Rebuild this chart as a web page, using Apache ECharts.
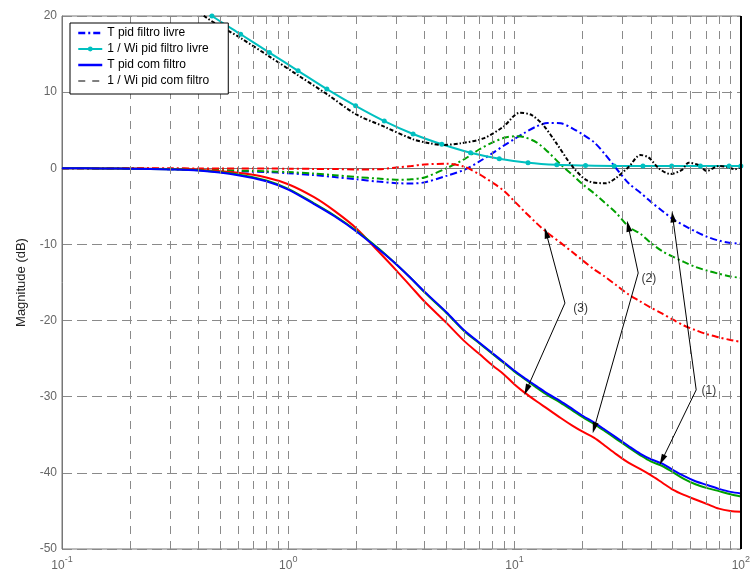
<!DOCTYPE html>
<html>
<head>
<meta charset="utf-8">
<script src="https://cdn.jsdelivr.net/npm/echarts@6/dist/echarts.min.js"></script>
<style>html,body{margin:0;padding:0;background:#fff;}#chart{width:753px;height:572px;}</style>
</head>
<body>
<div id="chart"></div>
<script>
// ---- data (frequency in rad/s, magnitude in dB) ----
const freq = [0.1,0.15,0.2,0.3,0.4,0.6,0.8,1.0,1.3,1.6,2.0,2.5,3.0,3.5,4,5,6,7,8,9,10,11,12.5,14,16,18,20,22.5,25,28,32,36,40,45,50,56,63,71,80,90,100];

// T, pid filtro livre (dash-dot) - cases (1) blue, (2) green, (3) red
const tLivre1 = [0,-0.02,-0.05,-0.12,-0.2,-0.4,-0.5,-0.65,-0.9,-1.15,-1.45,-1.75,-1.95,-2.0,-1.85,-1.0,-0.2,0.9,2.0,3.0,3.85,4.6,5.5,5.95,5.9,5.25,4.45,3.4,1.9,0.07,-2.0,-3.2,-4.4,-5.6,-6.65,-7.5,-8.3,-9.0,-9.5,-9.8,-9.9];
const tLivre2 = [0,-0.02,-0.04,-0.1,-0.17,-0.3,-0.4,-0.5,-0.7,-0.9,-1.15,-1.35,-1.5,-1.45,-1.2,0.0,1.2,2.5,3.4,4.0,4.2,4.1,3.4,2.2,0.5,-0.85,-2.1,-3.3,-4.5,-5.8,-7.7,-8.6,-9.8,-10.9,-11.6,-12.3,-12.95,-13.45,-13.85,-14.2,-14.4];
const tLivre3 = [0,0,0,0,-0.02,-0.03,-0.04,-0.05,-0.08,-0.1,-0.15,-0.13,0.1,0.3,0.5,0.6,0.2,-0.8,-1.9,-3.0,-4.35,-5.6,-7.2,-8.5,-9.8,-11.0,-12.1,-13.3,-14.2,-15.3,-16.6,-17.5,-18.3,-19.1,-19.85,-20.65,-21.25,-21.8,-22.2,-22.55,-22.8];

// T, pid com filtro (solid)
const tCom1 = [0,-0.02,-0.05,-0.15,-0.3,-0.9,-1.7,-2.8,-4.7,-6.3,-8.3,-10.6,-12.6,-14.5,-16.2,-18.9,-21.3,-22.9,-24.3,-25.5,-26.6,-27.5,-28.6,-29.6,-30.6,-31.6,-32.5,-33.4,-34.3,-35.3,-36.5,-37.5,-38.2,-38.8,-39.6,-40.4,-41.1,-41.6,-42.1,-42.5,-42.7];
const tCom2 = [0,-0.02,-0.05,-0.13,-0.27,-0.8,-1.6,-2.7,-4.6,-6.2,-8.2,-10.5,-12.6,-14.5,-16.3,-19.0,-21.4,-23.0,-24.4,-25.6,-26.7,-27.6,-28.8,-29.8,-30.8,-31.8,-32.7,-33.6,-34.5,-35.5,-36.7,-37.7,-38.5,-39.1,-39.9,-40.8,-41.5,-42.0,-42.4,-42.8,-43.1];
const tCom3 = [0,-0.02,-0.04,-0.1,-0.2,-0.6,-1.2,-2.1,-3.8,-5.6,-7.9,-10.9,-13.4,-15.6,-17.5,-20.3,-22.7,-24.4,-25.9,-27.1,-28.4,-29.4,-30.6,-31.6,-32.8,-33.8,-34.6,-35.4,-36.4,-37.5,-38.7,-39.5,-40.3,-41.3,-42.2,-42.9,-43.5,-44.1,-44.7,-45.0,-45.1];

// 1/Wi, pid filtro livre (cyan, markers)
const wiLivreFreq = [0.343,0.460,0.616,0.825,1.105,1.481,1.984,2.657,3.561,4.771,6.391,8.562,11.47,15.37,20.59,27.57,36.94,49.49,66.3,88.8,100];
const wiLivre = [22.6,20.0,17.6,15.2,12.8,10.4,8.2,6.2,4.5,3.15,2.05,1.26,0.73,0.45,0.35,0.3,0.3,0.3,0.3,0.3,0.3];

// 1/Wi, pid com filtro (black)
const wiComFreq = [0.32,0.425,0.616,0.823,1.106,1.478,1.99,2.64,3.57,4.2,4.79,5.75,7.29,8.92,10.55,11.87,13.36,15.3,18.07,21.0,25.3,28.0,32.0,36.0,39.2,43.4,48.8,55,58.8,65,70.7,80,88,94,100];
const wiCom = [23.5,20.0,17.1,14.7,12.2,9.76,7.1,5.5,3.8,3.3,3.06,3.27,3.93,5.46,7.3,7.0,5.7,3.3,0.2,-1.63,-1.97,-1.3,0.2,1.74,1.4,0.0,-0.75,-0.2,0.73,0.43,-0.35,0.3,0.13,-0.13,0.13];

// axes
const yMin = -50, yMax = 20, yStep = 10;
const xMin = 0.1, xMax = 100;
const gridFreqs = [0.2,0.3,0.4,0.5,0.6,0.7,0.8,0.9,1,2,3,4,5,6,7,8,9,10,20,30,40,50,60,70,80,90];

// annotations
const annLabels = ['(3)','(2)','(1)'];
const annLabelPos = [[19.6,-18.4],[39.2,-14.45],[72.2,-29.2]];
const annArrows = [
  [[16.7,-17.7],[13.8,-8.5]],
  [[16.7,-17.7],[11.3,-29.1]],
  [[35.2,-13.75],[31.8,-7.6]],
  [[35.2,-13.75],[22.5,-34.1]],
  [[63.5,-29.1],[50.0,-6.4]],
  [[63.5,-29.1],[44.9,-38.3]]
];

const FONT = 'Liberation Sans, Arial, sans-serif';
const zip = (xs, ys) => xs.map((x, i) => [x, ys[i]]);
const DASHDOT = [7, 3, 2, 3];
const NOSYM = {opacity: 0};

const chart = echarts.init(document.getElementById('chart'), null, {renderer: 'canvas'});

const series = [
  {
    name: 'grid-v', type: 'line', data: [], z: 0, silent: true,
    markLine: {
      silent: true, symbol: ['none', 'none'], animation: false,
      label: {show: false},
      lineStyle: {color: '#8a8a8a', width: 1, type: [8, 7]},
      data: gridFreqs.map(f => ({xAxis: f}))
    }
  },
  {
    name: 'frame-right', type: 'line', data: [], z: 6, silent: true,
    markLine: {
      silent: true, symbol: ['none', 'none'], animation: false,
      label: {show: false},
      lineStyle: {color: '#000', width: 2, type: 'solid'},
      data: [{xAxis: xMax}]
    }
  },
  {name: 'T pid filtro livre', type: 'line', data: zip(freq, tLivre1), symbol: 'none', smooth: 0.3, z: 3,
   lineStyle: {color: '#0000ff', width: 2, type: DASHDOT}, itemStyle: {color: '#0000ff'}},
  {name: 'T livre (2)', type: 'line', data: zip(freq, tLivre2), symbol: 'none', smooth: 0.3, z: 3,
   lineStyle: {color: '#00a000', width: 2, type: DASHDOT}, itemStyle: {color: '#00a000'}},
  {name: 'T livre (3)', type: 'line', data: zip(freq, tLivre3), symbol: 'none', smooth: 0.3, z: 3,
   lineStyle: {color: '#ff0000', width: 2, type: DASHDOT}, itemStyle: {color: '#ff0000'}},
  {name: '1 / Wi pid filtro livre', type: 'line', data: zip(wiLivreFreq, wiLivre), symbol: 'circle', symbolSize: 5, smooth: 0.3, z: 3,
   showAllSymbol: true,
   lineStyle: {color: '#00c0c0', width: 2}, itemStyle: {color: '#00c0c0'}},
  {name: '1 / Wi pid com filtro', type: 'line', data: zip(wiComFreq, wiCom), symbol: 'none', smooth: 0.3, z: 3,
   lineStyle: {color: '#000', width: 2, type: [4, 2, 1.5, 2]}, itemStyle: {color: '#000'}},
  {name: 'T com (3)', type: 'line', data: zip(freq, tCom3), symbol: 'none', smooth: 0.3, z: 3,
   lineStyle: {color: '#ff0000', width: 2}, itemStyle: {color: '#ff0000'}},
  {name: 'T com (2)', type: 'line', data: zip(freq, tCom2), symbol: 'none', smooth: 0.3, z: 3,
   lineStyle: {color: '#00a000', width: 2}, itemStyle: {color: '#00a000'}},
  {name: 'T pid com filtro', type: 'line', data: zip(freq, tCom1), symbol: 'none', smooth: 0.3, z: 3,
   lineStyle: {color: '#0000ff', width: 2}, itemStyle: {color: '#0000ff'}},
  {
    name: 'annotations', type: 'scatter', z: 5, silent: true,
    data: annLabelPos.map((p, i) => ({value: p, name: annLabels[i]})),
    symbolSize: 0,
    label: {show: true, position: 'inside', formatter: p => p.name, color: '#000', fontSize: 12, fontFamily: FONT},
    markLine: {
      silent: true, animation: false,
      symbol: ['none', 'triangle'], symbolSize: [6, 11],
      label: {show: false},
      lineStyle: {color: '#000', width: 1, type: 'solid'},
      itemStyle: {color: '#000'},
      data: annArrows.map(a => [{coord: a[0]}, {coord: a[1]}])
    }
  }
];

chart.setOption({
  animation: false,
  backgroundColor: '#fff',
  grid: {left: 62, right: 7, top: 16, bottom: 23, show: true, borderColor: '#777', borderWidth: 1},
  legend: {
    orient: 'vertical', left: 70, top: 23,
    backgroundColor: '#fff', borderColor: '#000', borderWidth: 1, borderRadius: 0,
    padding: [4, 19, 7, 7], itemGap: 4, itemWidth: 24, itemHeight: 6,
    textStyle: {fontFamily: FONT, fontSize: 12, color: '#000'},
    data: [
      {name: 'T pid filtro livre', itemStyle: NOSYM, lineStyle: {width: 2.5}},
      {name: '1 / Wi pid filtro livre'},
      {name: 'T pid com filtro', itemStyle: NOSYM, lineStyle: {width: 2.5}},
      {name: '1 / Wi pid com filtro', itemStyle: NOSYM, lineStyle: {type: [7, 7], width: 1, color: '#000'}}
    ],
    selectedMode: false, z: 10
  },
  xAxis: {
    type: 'log', logBase: 10, min: xMin, max: xMax,
    axisLine: {show: true, lineStyle: {color: '#777'}},
    axisTick: {show: false},
    splitLine: {show: false},
    axisLabel: {
      margin: 6, showMinLabel: true, showMaxLabel: true,
      formatter: v => '{b|10}{s|' + Math.round(Math.log10(v)) + '}',
      rich: {
        b: {fontSize: 12, fontFamily: FONT, color: '#666', verticalAlign: 'bottom', lineHeight: 17},
        s: {fontSize: 9, fontFamily: FONT, color: '#666', verticalAlign: 'top', lineHeight: 17}
      }
    }
  },
  yAxis: {
    type: 'value', min: yMin, max: yMax, interval: yStep,
    name: 'Magnitude (dB)', nameLocation: 'middle', nameGap: 34, nameRotate: 90,
    nameTextStyle: {fontFamily: FONT, fontSize: 13, color: '#222'},
    axisLine: {show: true, lineStyle: {color: '#777'}},
    axisTick: {show: false},
    axisLabel: {margin: 5, fontFamily: FONT, fontSize: 12, color: '#666'},
    splitLine: {show: true, lineStyle: {color: '#8a8a8a', width: 1, type: [10, 5]}}
  },
  series: series
});
</script>
</body>
</html>
